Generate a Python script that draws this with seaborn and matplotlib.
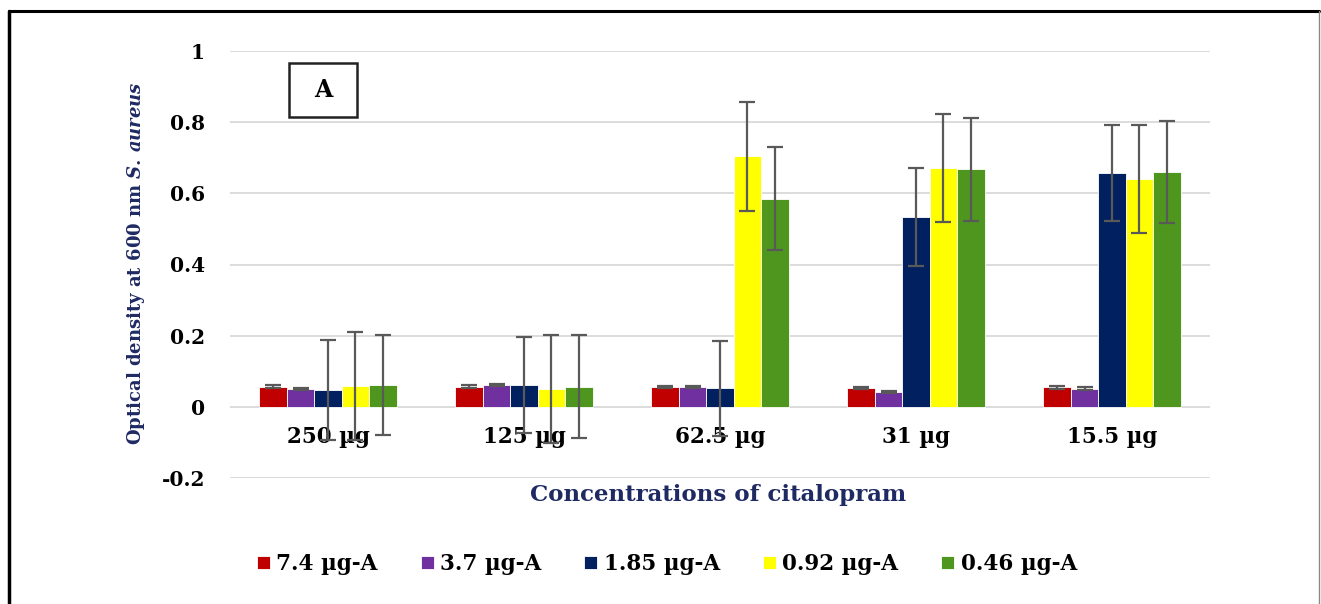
import numpy as np
import pandas as pd
import matplotlib
matplotlib.use("Agg")
import matplotlib.pyplot as plt
from matplotlib.lines import Line2D
from matplotlib.patches import Rectangle
import seaborn as sns

# Data: optical density (mean and error) per citalopram concentration and series
concentrations = ["250 µg", "125 µg", "62.5 µg", "31 µg", "15.5 µg"]
series = ["7.4 µg-A", "3.7 µg-A", "1.85 µg-A", "0.92 µg-A", "0.46 µg-A"]

od_7_4 = [0.057, 0.057, 0.056, 0.052, 0.055]
od_3_7 = [0.050, 0.062, 0.056, 0.041, 0.051]
od_1_85 = [0.048, 0.061, 0.052, 0.533, 0.657]
od_0_92 = [0.059, 0.050, 0.704, 0.671, 0.641]
od_0_46 = [0.062, 0.057, 0.585, 0.668, 0.661]

err_7_4 = [0.003, 0.003, 0.003, 0.003, 0.004]
err_3_7 = [0.003, 0.003, 0.003, 0.003, 0.004]
err_1_85 = [0.140, 0.135, 0.134, 0.138, 0.136]
err_0_92 = [0.151, 0.152, 0.153, 0.152, 0.152]
err_0_46 = [0.140, 0.145, 0.144, 0.145, 0.143]

means = [od_7_4, od_3_7, od_1_85, od_0_92, od_0_46]
errors = [err_7_4, err_3_7, err_1_85, err_0_92, err_0_46]

colors = ["#c00000", "#7030a0", "#002060", "#ffff00", "#4e961e"]
title_color = "#1f2a63"

rows = []
for s, vals in zip(series, means):
    for c, v in zip(concentrations, vals):
        rows.append({"Concentration": c, "Series": s, "OD": v})
df = pd.DataFrame(rows)

sns.set_theme(style="white")
plt.rcParams["font.family"] = ["DejaVu Serif"]
plt.rcParams["text.color"] = "black"
plt.rcParams["ytick.color"] = "black"
plt.rcParams["mathtext.fontset"] = "custom"
plt.rcParams["mathtext.rm"] = "DejaVu Serif:bold"
plt.rcParams["mathtext.it"] = "DejaVu Serif:italic:bold"

fig = plt.figure(figsize=(13.21, 6.04), dpi=100)
ax = fig.add_axes([230 / 1321, 1 - 478 / 604, (1210 - 230) / 1321, (478 - 51) / 604])

sns.barplot(data=df, x="Concentration", y="OD", hue="Series",
            order=concentrations, hue_order=series, palette=colors,
            width=0.7, errorbar=None, saturation=1, edgecolor="white",
            linewidth=0.6, ax=ax, legend=True, zorder=3)

# Error bars placed on each bar from the bar geometry
for cont, errs in zip(ax.containers, errors):
    xs = [b.get_x() + b.get_width() / 2 for b in cont]
    ys = [b.get_height() for b in cont]
    ax.errorbar(xs, ys, yerr=errs, fmt="none", ecolor="#595959",
                elinewidth=1.6, capsize=5.5, capthick=1.6, zorder=6)

ax.set_ylim(-0.2, 1.0)
ax.set_xlim(-0.5, 4.5)
ax.set_yticks([-0.2, 0, 0.2, 0.4, 0.6, 0.8, 1.0])
ax.set_yticklabels(["-0.2", "0", "0.2", "0.4", "0.6", "0.8", "1"])
ax.tick_params(axis="y", length=0, pad=18, labelsize=14.5, labelcolor="black")
for t in ax.get_yticklabels():
    t.set_fontweight("bold")
ax.set_xticks([])
ax.set_xlabel("")
ax.set_ylabel("")
ax.grid(axis="y", color="#d9d9d9", linewidth=1.3, zorder=0)
ax.set_axisbelow(True)
for sp in ax.spines.values():
    sp.set_visible(False)

# Category labels sit just under the zero line
for i, c in enumerate(concentrations):
    ax.text(i, -0.101, c, ha="center", va="baseline", fontsize=15.5,
            fontweight="bold", color="black", zorder=2)

# Panel tag
ax.add_patch(Rectangle((0.0602, 0.8454), 0.0694, 0.1265, transform=ax.transAxes,
                       facecolor="white", edgecolor="#222222", linewidth=1.8,
                       zorder=7, clip_on=False))
ax.text(0.0949, 0.9087, "A", transform=ax.transAxes, ha="center", va="center",
        fontsize=17, fontweight="bold", color="black", zorder=8)

fig.text(718 / 1321, 1 - 495 / 604, "Concentrations of citalopram",
         ha="center", va="center", fontsize=16.5, fontweight="bold",
         color=title_color)
fig.text(136 / 1321, 1 - 263 / 604,
         r"Optical density at 600 nm $\it{S.\,aureus}$",
         ha="center", va="center", rotation=90, fontsize=13,
         fontweight="bold", color=title_color)

handles, labels = ax.get_legend_handles_labels()
ax.get_legend().remove()
leg = fig.legend(handles, labels, loc="center", ncol=5,
                 bbox_to_anchor=(667 / 1321, 1 - 564 / 604), frameon=False,
                 prop={"weight": "bold", "size": 15.5},
                 handlelength=0.6, handleheight=0.6, handletextpad=0.3,
                 columnspacing=2.0, labelcolor="black")

# Page frame around the figure
fig.add_artist(Line2D([9 / 1321, 9 / 1321], [0, 1 - 11 / 604], color="black",
                      linewidth=2.5, transform=fig.transFigure))
fig.add_artist(Line2D([9 / 1321, 1319 / 1321], [1 - 11 / 604, 1 - 11 / 604],
                      color="black", linewidth=2.2, transform=fig.transFigure))
fig.add_artist(Line2D([1319 / 1321, 1319 / 1321], [0, 1 - 11 / 604],
                      color="#888888", linewidth=1.0, transform=fig.transFigure))

fig.savefig("out.png", dpi=100, facecolor="white")
